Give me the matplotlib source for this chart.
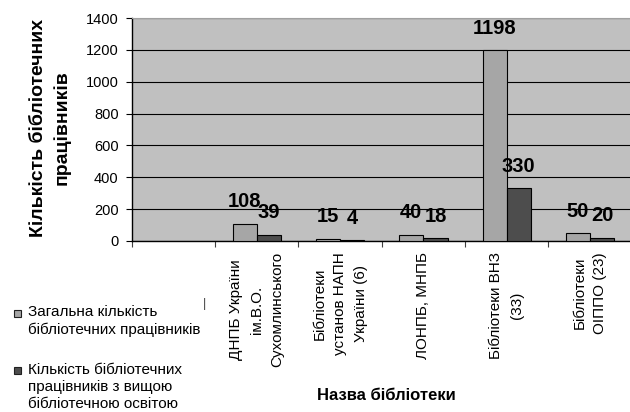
import matplotlib
matplotlib.use('Agg')
import matplotlib.pyplot as plt
import numpy as np
from matplotlib.patches import Rectangle

plt.rcParams['font.family'] = ['Liberation Sans', 'DejaVu Sans']

# дані
categories = ['ДНПБ України\nім.В.О.\nСухомлинського',
              'Бібліотеки\nустанов НАПН\nУкраїни (6)',
              'ЛОНПБ, МНПБ',
              'Бібліотеки ВНЗ\n(33)',
              'Бібліотеки\nОІППО (23)']
total = [108, 15, 40, 1198, 50]
higher = [39, 4, 18, 330, 20]
series_names = ['Загальна кількість\nбібліотечних працівників',
                'Кількість бібліотечних\nпрацівників з вищою\nбібліотечною освітою']
colors = ['#A6A6A6', '#4D4D4D']
yticks = [0, 200, 400, 600, 800, 1000, 1200, 1400]

fig = plt.figure(figsize=(6.3, 4.12), dpi=100)
ax = fig.add_axes([131.7 / 630, 1 - 241 / 412, 500 / 630, 223 / 412])
ax.set_facecolor('#C0C0C0')

x = np.arange(len(categories))
w = 0.29
b1 = ax.bar(x - w / 2, total, w, color=colors[0], edgecolor='black', linewidth=0.8, zorder=3)
b2 = ax.bar(x + w / 2, higher, w, color=colors[1], edgecolor='black', linewidth=0.8, zorder=3)

# підписи значень
for bars in (b1, b2):
    for r in bars:
        ax.annotate(str(int(r.get_height())), (r.get_x() + r.get_width() / 2, r.get_height()),
                    xytext=(0, 9), textcoords='offset points', ha='center', va='bottom',
                    fontsize=14.5, fontweight='bold', zorder=4)

ax.set_xlim(-1.5, len(categories) - 0.5)
ax.set_ylim(0, 1400)
ax.set_yticks(yticks)
ax.tick_params(axis='y', labelsize=10.5, length=4, width=0.8, pad=5.5)
ax.yaxis.grid(True, color='black', linewidth=0.8, zorder=1)

ax.set_xticks(x)
ax.set_xticklabels(categories, rotation=90, va='top', ha='center', multialignment='center',
                   fontsize=11, linespacing=1.6)
ax.tick_params(axis='x', length=0, pad=8)
ax.set_xticks(np.arange(-1.5, len(categories)), minor=True)
ax.tick_params(axis='x', which='minor', length=4, width=0.8, color='#404040')

ax.spines['top'].set_color('#A0A0A0')
ax.spines['right'].set_visible(False)
ax.spines['left'].set_linewidth(1)
ax.spines['bottom'].set_linewidth(1)

fig.text(50 / 630, 1 - 128 / 412, 'Кількість бібліотечних\nпрацівників', rotation=90,
         ha='center', va='center', fontsize=14, fontweight='bold', linespacing=1.45)
fig.text(386 / 630, 1 - 395 / 412, 'Назва бібліотеки', ha='center', va='center',
         fontsize=12, fontweight='bold')

# легенда
leg_y = [313, 370]
for name, c, yy in zip(series_names, colors, leg_y):
    fig.patches.append(Rectangle((14 / 630, 1 - (yy + 3.5) / 412), 7 / 630, 7 / 412,
                                 transform=fig.transFigure, facecolor=c, edgecolor='#202020',
                                 linewidth=0.8))
    fig.text(28 / 630, 1 - (yy - 7.5) / 412, name, ha='left', va='top', fontsize=11, linespacing=1.3)
fig.text(204 / 630, 1 - 304 / 412, '|', ha='center', va='center', fontsize=9, color='#404040')

plt.savefig('out.png', dpi=100)
plt.close()
